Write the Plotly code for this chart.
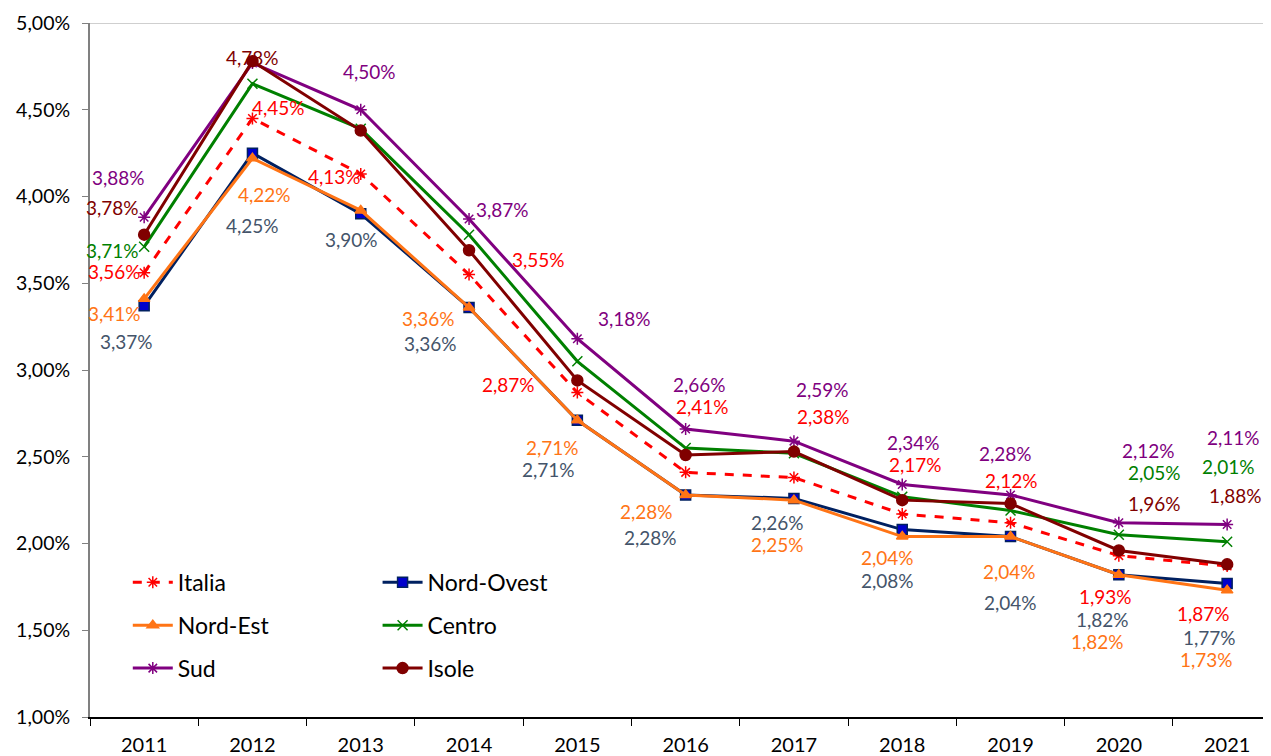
import plotly.graph_objects as go

# data (percent values)
years = ["2011", "2012", "2013", "2014", "2015", "2016", "2017", "2018", "2019", "2020", "2021"]
italia = [3.56, 4.45, 4.13, 3.55, 2.87, 2.41, 2.38, 2.17, 2.12, 1.93, 1.87]
nord_ovest = [3.37, 4.25, 3.90, 3.36, 2.71, 2.28, 2.26, 2.08, 2.04, 1.82, 1.77]
nord_est = [3.41, 4.22, 3.92, 3.36, 2.71, 2.28, 2.25, 2.04, 2.04, 1.82, 1.73]
centro = [3.71, 4.65, 4.39, 3.78, 3.05, 2.55, 2.52, 2.27, 2.19, 2.05, 2.01]
sud = [3.88, 4.77, 4.50, 3.87, 3.18, 2.66, 2.59, 2.34, 2.28, 2.12, 2.11]
isole = [3.78, 4.78, 4.38, 3.69, 2.94, 2.51, 2.53, 2.25, 2.23, 1.96, 1.88]

# label offsets in px (dx, dy down), None = no label
off_italia = [(-30, -1), (26, -11), (-26, 3), (69, -15), (-69, -8), (17, -66),
              (30, -61), (13, -50), (1, -42), (-13, 41), (-24, 47)]
off_no = [(-18, 36), (0, 72), (-9, 26), (-39, 36), (-29, 49), (-35, 43),
          (-16, 24), (-15, 51), (0, 66), (-16, 45), (-18, 54)]
off_ne = [(-30, 15), (12, 36), None, (-41, 11), (-25, 27), (-39, 17),
          (-16, 44), (-15, 21), (-1, 35), (-21, 67), (-21, 69)]
off_centro = [(-32, 4), None, None, None, None, None, None, None, None, (36, -62), (1, -75)]
off_sud = [(-26, -40), None, (9, -38), (33, -10), (47, -20), (14, -44),
           (29, -52), (11, -42), (-5, -41), (30, -72), (6, -87)]
off_isole = [(-32, -27), (0, -4), None, None, None, None, None, None, None, (36, -47), (8, -69)]

FONT = "Lato"

series = [
    # name, values, line colour, marker, marker colour, label colour, dash, offsets, legend
    ("Italia", italia, "#FF0000", "asterisk-open", "#FF0000", "#FF0000", "dash", off_italia, "legend"),
    ("Nord-Ovest", nord_ovest, "#002060", "square", "#0000CC", "#44546A", "solid", off_no, "legend2"),
    ("Nord-Est", nord_est, "#FF7415", "triangle-up", "#FF7415", "#FF7415", "solid", off_ne, "legend"),
    ("Centro", centro, "#008000", "x-thin-open", "#008000", "#008000", "solid", off_centro, "legend2"),
    ("Sud", sud, "#800080", "asterisk-open", "#800080", "#800080", "solid", off_sud, "legend"),
    ("Isole", isole, "#800000", "circle", "#800000", "#800000", "solid", off_isole, "legend2"),
]

fig = go.Figure()
annotations = []
for name, vals, lc, sym, mc, tc, dash, offs, leg in series:
    fig.add_trace(go.Scatter(
        x=years, y=vals, name=name, mode="lines+markers",
        line=dict(color=lc, width=3, dash="dash" if dash == "dash" else None),
        marker=dict(symbol=sym, size=10 if sym != "circle" else 11, color=mc,
                    line=dict(color=mc if sym != "square" else "#002060", width=1.5)),
        legend=leg, legendgroup=name,
    ))
    for i, (v, o) in enumerate(zip(vals, offs)):
        if o is None:
            continue
        # category index as x (year strings look numeric)
        annotations.append(dict(
            x=i, y=v, xref="x", yref="y", text=f"{v:.2f}".replace(".", ",") + "%",
            showarrow=False, xshift=o[0], yshift=-o[1],
            font=dict(family=FONT, size=19, color=tc),
            xanchor="center", yanchor="middle",
        ))

# page body has an 8px margin, so the figure is shifted and shrunk to match
fig.update_layout(
    width=1263, height=748,
    margin=dict(l=82, r=0, t=15, b=39),
    paper_bgcolor="white", plot_bgcolor="white",
    font=dict(family=FONT, size=19.5, color="#000000"),
    separators=",.",
    annotations=annotations,
    legend=dict(x=0.032, y=0.225, xanchor="left", yanchor="top", bgcolor="rgba(0,0,0,0)",
                font=dict(size=23), tracegroupgap=10, itemwidth=40),
    legend2=dict(x=0.2435, y=0.225, xanchor="left", yanchor="top", bgcolor="rgba(0,0,0,0)",
                 font=dict(size=23), tracegroupgap=10, itemwidth=40),
    shapes=[dict(type="line", xref="paper", yref="y", x0=0, x1=1, y0=5, y1=5,
                 line=dict(color="#BFBFBF", width=1.5))],
)
fig.update_xaxes(
    type="category", range=[-0.5, 10.405], showgrid=False,
    showline=True, linecolor="#000000", linewidth=1.5,
    ticks="outside", tickson="boundaries", ticklen=7, tickcolor="#000000",
    tickfont=dict(size=20), ticklabelstandoff=9,
)
fig.update_yaxes(
    range=[1, 5], dtick=0.5, tickformat=".2f", ticksuffix="%", showgrid=False,
    showline=True, linecolor="#808080", linewidth=2,
    ticks="outside", ticklen=6, tickcolor="#808080", zeroline=False,
    tickfont=dict(size=19.5), ticklabelstandoff=8,
)

fig.write_html("out.html")
